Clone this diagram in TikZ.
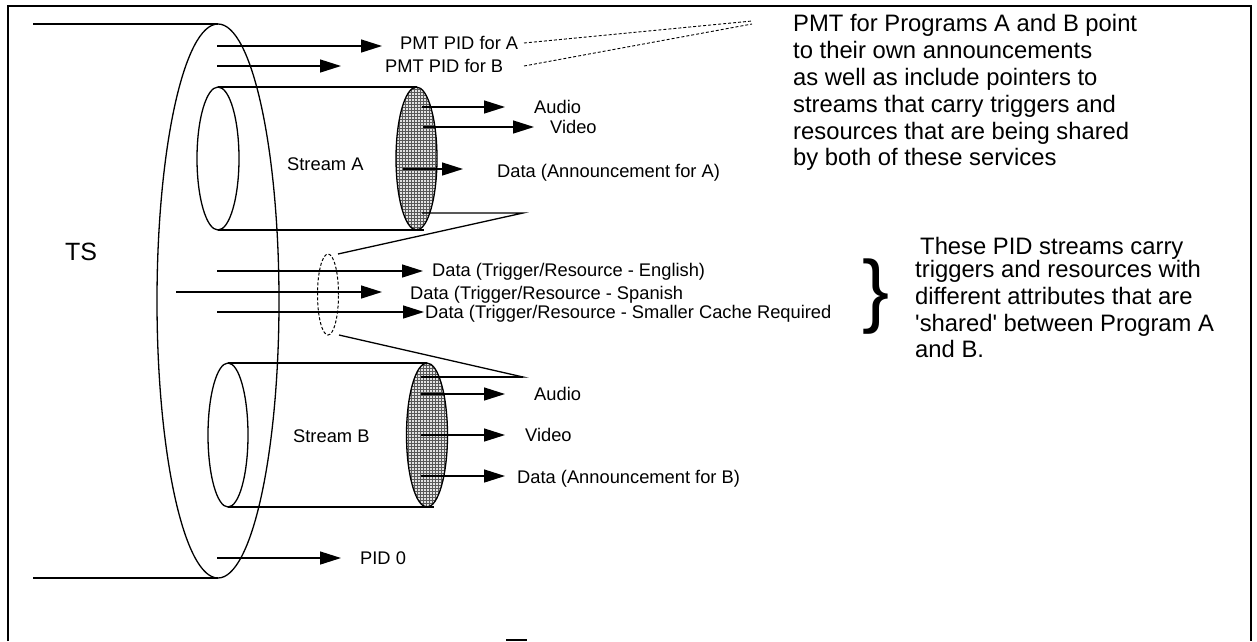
\documentclass[tikz,border=0pt]{standalone}
\usepackage{fontspec}
\setmainfont{Liberation Sans}
\usetikzlibrary{arrows.meta,patterns}
\tikzset{
  lbl/.style={inner sep=0pt, anchor=base west, font=\fontsize{18.3}{22}\selectfont},
  bignote/.style={inner sep=0pt, anchor=north west, align=left, font=\fontsize{23.8}{26.8}\selectfont},
  arr/.style={line width=1.4pt, -{Triangle[length=21pt,width=13pt]}},
  ln/.style={line width=1.3pt},
  dsh/.style={line width=0.9pt, dash pattern=on 3pt off 2pt},
  dotfill/.style={pattern=grid, pattern color=black!65},
}
\begin{document}
\begin{tikzpicture}[x=1pt,y=-1pt]
\fill[white] (0,0) rectangle (1257,641);
\useasboundingbox (0,0) rectangle (1257,641);
% frame
\draw[line width=2pt] (8,641) -- (8,6) -- (1251,6) -- (1251,641);

% TS pipe
\coordinate (tsC) at (218,301);
\coordinate (tsT) at (218,24);  \coordinate (tsTL) at (33,24);
\coordinate (tsB) at (218,578); \coordinate (tsBL) at (33,578);
\draw[ln] (tsC) ellipse [x radius=61pt, y radius=277pt];
\draw[ln] (tsTL) -- (tsT);
\draw[ln] (tsBL) -- (tsB);
\node[inner sep=0pt, anchor=base west, font=\fontsize{25}{28}\selectfont] (ts) at (65,260) {TS};

% PMT PIDs
\coordinate (pmtA0) at (217,46); \coordinate (pmtA1) at (382,46);
\node[lbl] (pmtA) at (400,49.5) {PMT PID for A};
\draw[arr] (pmtA0) -- (pmtA1);
\coordinate (pmtB0) at (217,66); \coordinate (pmtB1) at (341,66);
\node[lbl] (pmtB) at (385,72.5) {PMT PID for B};
\draw[arr] (pmtB0) -- (pmtB1);

\node[bignote] (note1) at (793,14.5) {PMT for Programs A and B point\\to their own announcements\\as well as include pointers to\\streams that carry triggers and\\resources that are being shared\\by both of these services};
\coordinate (dA0) at (524,43); \coordinate (dA1) at (752,21);
\coordinate (dB0) at (524,66); \coordinate (dB1) at (752,24);
\draw[dsh] (dA0) -- (dA1);
\draw[dsh] (dB0) -- (dB1);

% Stream A cylinder
\coordinate (caL) at (218,158.5);
\coordinate (caR) at (416.5,158.5);
\draw[ln] (caL) ellipse [x radius=21pt, y radius=71.5pt];
\coordinate (caT0) at (218,87);  \coordinate (caT1) at (416.5,87);
\coordinate (caB0) at (218,230); \coordinate (caB1) at (424,230);
\draw[ln] (caT0) -- (caT1);
\draw[ln] (caB0) -- (caB1);
\fill[gray!22] (caR) ellipse [x radius=20.5pt, y radius=71.5pt];
\fill[dotfill] (caR) ellipse [x radius=20.5pt, y radius=71.5pt];
\draw[ln] (caR) ellipse [x radius=20.5pt, y radius=71.5pt];
\node[lbl] (strA) at (287,170) {Stream A};

\coordinate (aA0) at (422,107); \coordinate (aA1) at (505,107);
\draw[arr] (aA0) -- (aA1);
\node[lbl] (audA) at (534,113.5) {Audio};
\coordinate (vA0) at (423,127); \coordinate (vA1) at (534,127);
\draw[arr] (vA0) -- (vA1);
\node[lbl] (vidA) at (550,133.5) {Video};
\coordinate (dtA0) at (403,169); \coordinate (dtA1) at (463,169);
\draw[arr] (dtA0) -- (dtA1);
\node[lbl] (datA) at (497,177.5) {Data (Announcement for A)};

% callout to shared streams
\coordinate (cA0) at (422,213); \coordinate (cA1) at (523,213);
\coordinate (shC) at (328,294.5);
\coordinate (shT) at (338,254); \coordinate (shB) at (339,335);
\coordinate (cB1) at (523,377); \coordinate (cB0) at (421,377);
\draw[ln] (cA0) -- (cA1) -- (shT);
\draw[dsh, line width=1pt] (shC) ellipse [x radius=10.5pt, y radius=40.5pt];

\coordinate (en0) at (217,271); \coordinate (en1) at (423,271);
\draw[arr] (en0) -- (en1);
\node[lbl] (eng) at (432,276.5) {Data (Trigger/Resource - English)};
\coordinate (sp0) at (176,292); \coordinate (sp1) at (382,292);
\draw[arr] (sp0) -- (sp1);
\node[lbl] (spa) at (410,299) {Data (Trigger/Resource - Spanish};
\coordinate (sm0) at (217,312); \coordinate (sm1) at (424,312);
\draw[arr] (sm0) -- (sm1);
\node[lbl] (sma) at (425,318.5) {Data (Trigger/Resource - Smaller Cache Required};

\draw[ln] (shB) -- (cB1) -- (cB0);

\node[inner sep=0pt, font=\fontsize{81}{81}\selectfont] (brace) at (876,297) {\}};
\node[bignote] (note2) at (915,237) {\hspace*{5pt}These PID streams carry\\[-3.8pt]triggers and resources with\\different attributes that are\\\textquotesingle shared\textquotesingle{} between Program A\\and B.};

% Stream B cylinder
\coordinate (cbL) at (228,435);
\coordinate (cbR) at (427,435);
\draw[ln] (cbL) ellipse [x radius=20pt, y radius=72pt];
\coordinate (cbT0) at (228,363); \coordinate (cbT1) at (427,363);
\coordinate (cbB0) at (228,507); \coordinate (cbB1) at (434,507);
\draw[ln] (cbT0) -- (cbT1);
\draw[ln] (cbB0) -- (cbB1);
\fill[gray!22] (cbR) ellipse [x radius=20.5pt, y radius=72pt];
\fill[dotfill] (cbR) ellipse [x radius=20.5pt, y radius=72pt];
\draw[ln] (cbR) ellipse [x radius=20.5pt, y radius=72pt];
\draw[ln] (cB1) -- (cB0);
\node[lbl] (strB) at (293,442) {Stream B};

\coordinate (aB0) at (421,394); \coordinate (aB1) at (505,394);
\draw[arr] (aB0) -- (aB1);
\node[lbl] (audB) at (534,400.5) {Audio};
\coordinate (vB0) at (421,435); \coordinate (vB1) at (505,435);
\draw[arr] (vB0) -- (vB1);
\node[lbl] (vidB) at (525,441.5) {Video};
\coordinate (dtB0) at (421,476); \coordinate (dtB1) at (505,476);
\draw[arr] (dtB0) -- (dtB1);
\node[lbl] (datB) at (517,483) {Data (Announcement for B)};

% PID 0
\coordinate (p00) at (217,558); \coordinate (p01) at (341,558);
\draw[arr] (p00) -- (p01);
\node[lbl] (pid0) at (360,564.5) {PID 0};

% clipped mark at the bottom edge
\coordinate (mk0) at (506,639.5); \coordinate (mk1) at (527,639.5);
\draw[line width=2pt] (mk0) -- (mk1);
\end{tikzpicture}
\end{document}
